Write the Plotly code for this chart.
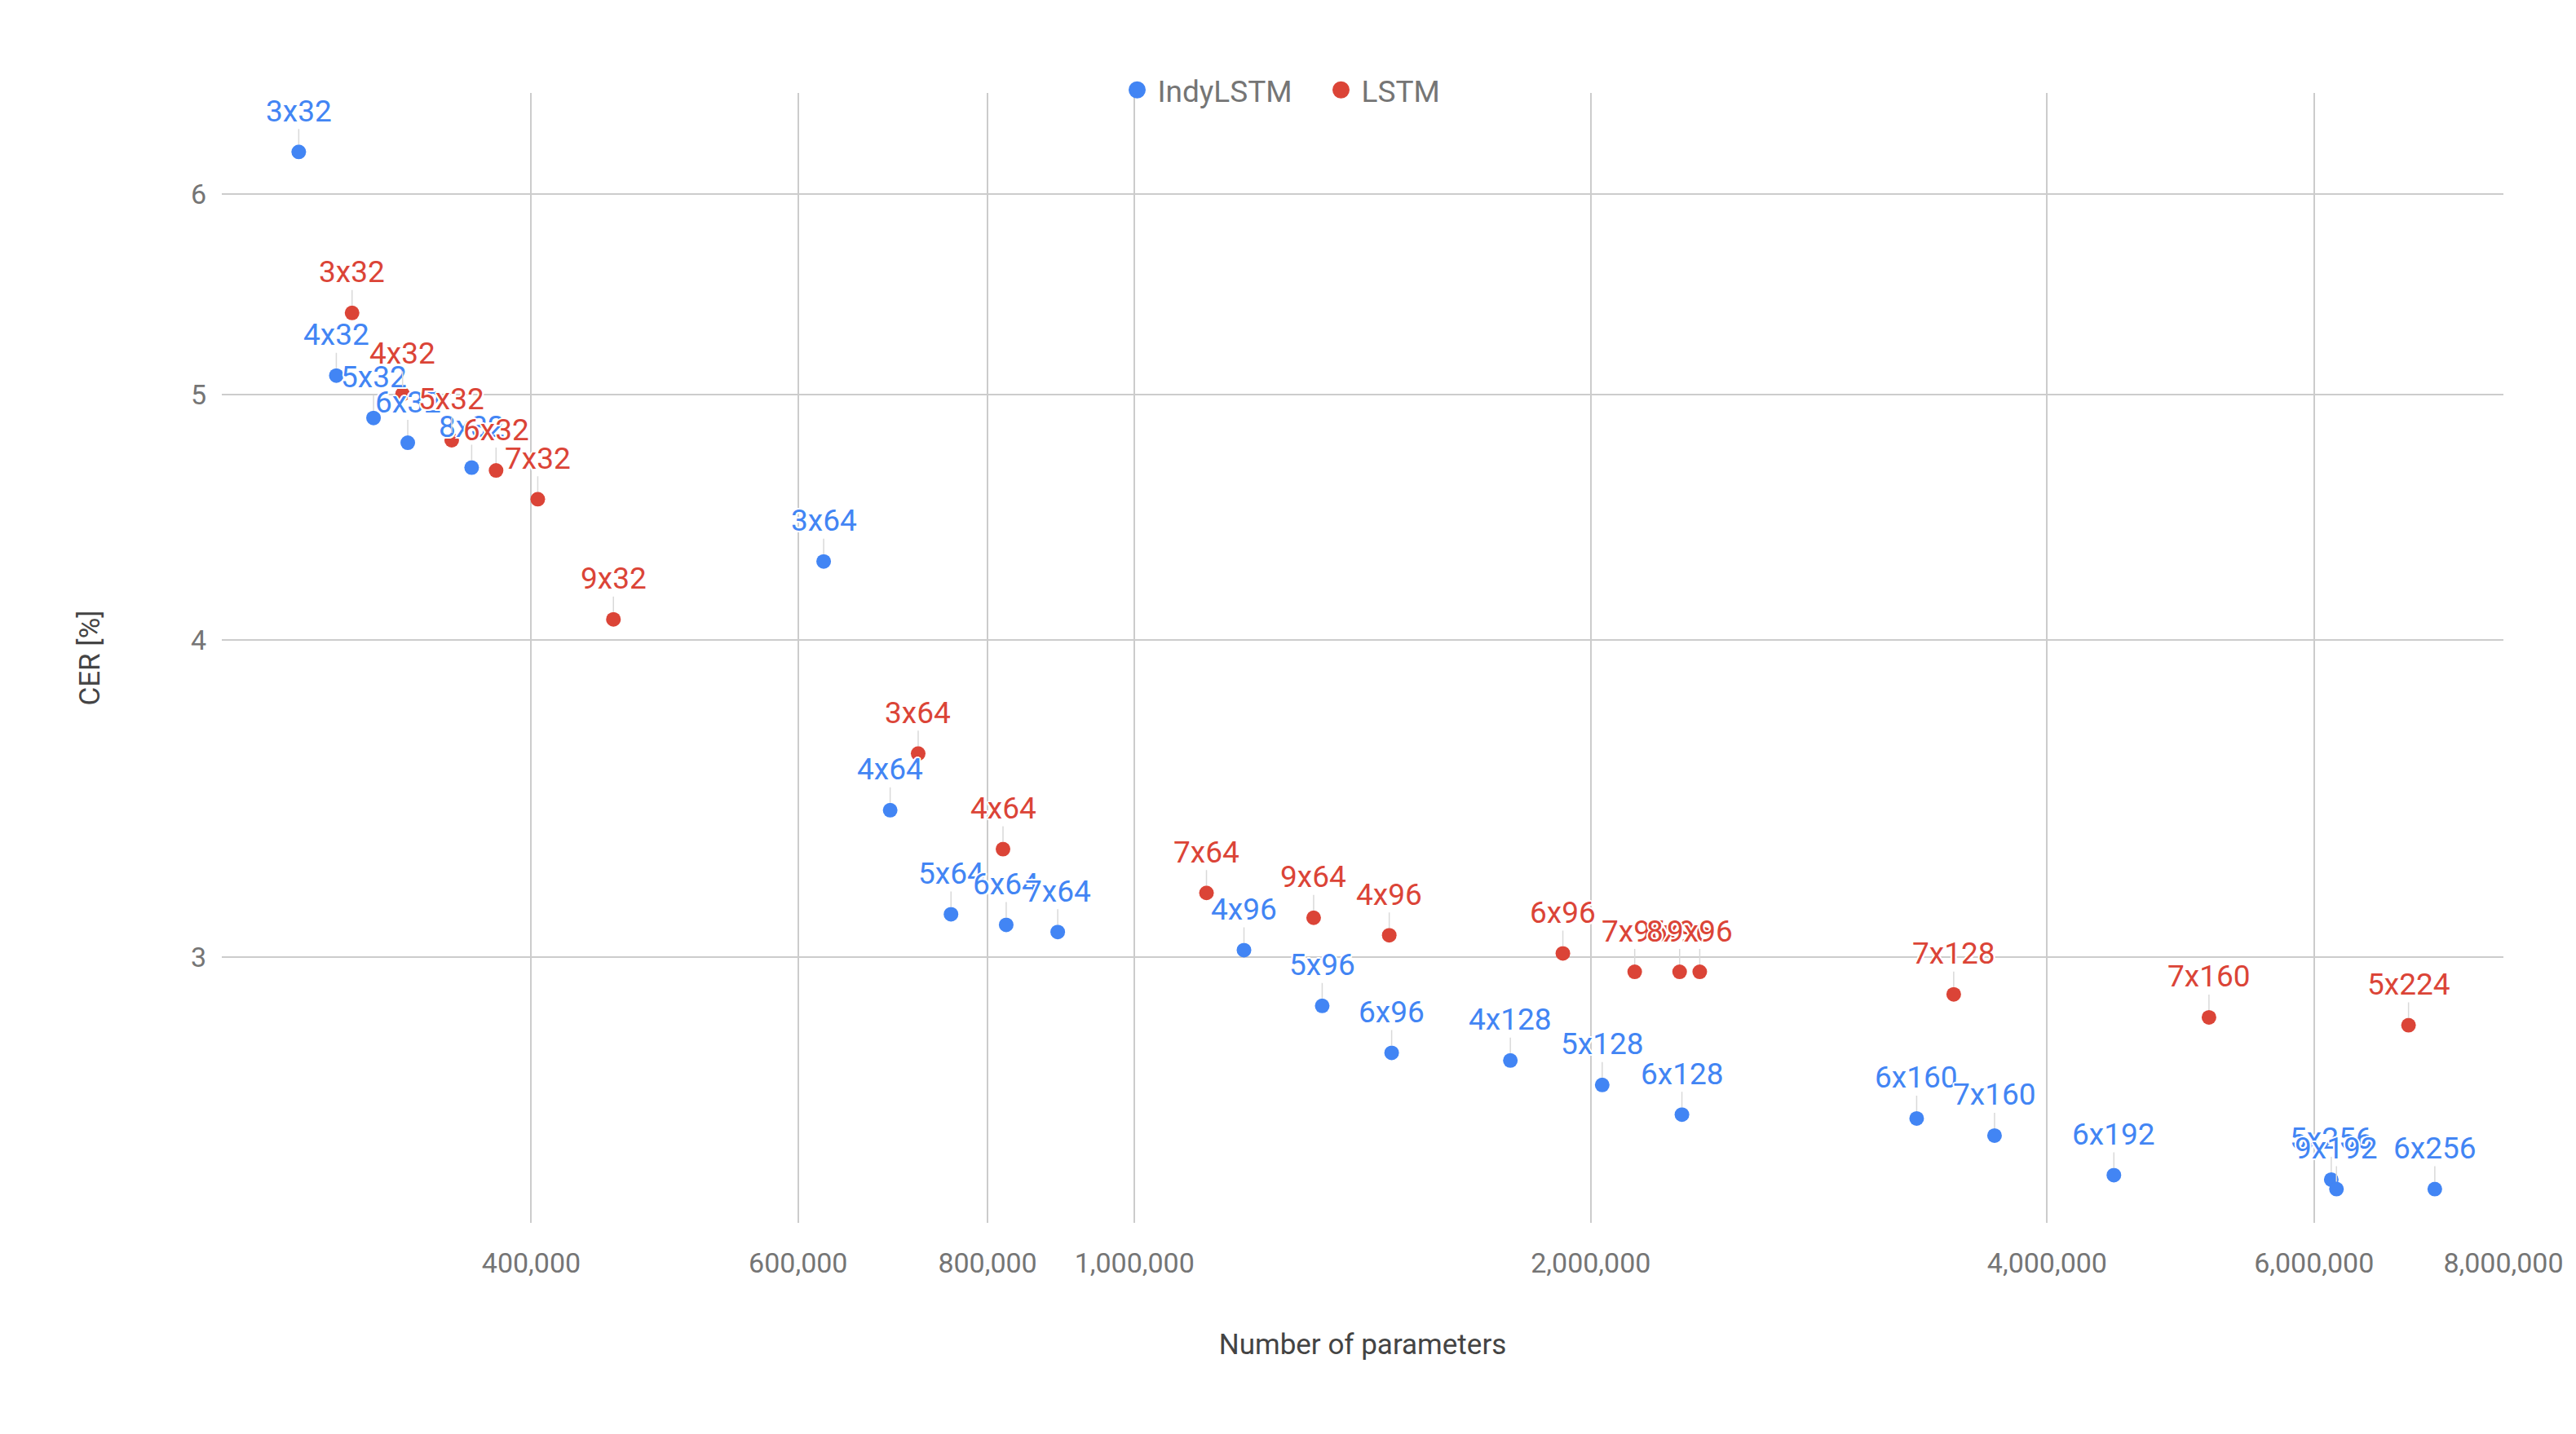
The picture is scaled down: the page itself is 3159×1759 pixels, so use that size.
import plotly.graph_objects as go
import numpy as np

# ---- data ----
indy_labels = ["3x32", "4x32", "5x32", "6x32", "8x32", "3x64", "4x64", "5x64", "6x64", "7x64",
               "4x96", "5x96", "6x96", "4x128", "5x128", "6x128", "6x160", "7x160", "6x192",
               "5x256", "9x192", "6x256"]
indy_params = [281000, 297500, 314800, 331600, 365400, 623700, 690000, 756800, 823000, 890000,
               1181000, 1330000, 1478000, 1770000, 2035000, 2297000, 3281000, 3693000, 4427000,
               6159000, 6208000, 7208000]
indy_cer = [6.233, 5.087, 4.895, 4.786, 4.679, 4.297, 3.428, 3.119, 3.089, 3.069,
            3.019, 2.870, 2.750, 2.731, 2.671, 2.600, 2.591, 2.551, 2.461,
            2.451, 2.430, 2.430]

lstm_labels = ["3x32", "4x32", "5x32", "6x32", "7x32", "9x32", "3x64", "4x64", "7x64", "9x64",
               "4x96", "6x96", "7x96", "8x96", "9x96", "7x128", "7x160", "5x224"]
lstm_params = [304700, 329000, 354500, 379200, 404000, 453200, 720000, 819000, 1115600, 1312800,
               1472600, 1917000, 2138000, 2289000, 2360000, 3471000, 5115000, 6926000]
lstm_cer = [5.385, 5.002, 4.797, 4.667, 4.547, 4.077, 3.609, 3.309, 3.180, 3.109,
            3.060, 3.010, 2.960, 2.960, 2.960, 2.900, 2.840, 2.820]

x_tick_vals = [400000, 600000, 800000, 1000000, 2000000, 4000000, 6000000, 8000000]
x_tick_text = ["400,000", "600,000", "800,000", "1,000,000", "2,000,000", "4,000,000", "6,000,000", "8,000,000"]
y_tick_vals = [3, 4, 5, 6]
y_tick_text = ["3", "4", "5", "6"]

series_names = ["IndyLSTM", "LSTM"]

BLUE = "#4285F4"
RED = "#DB4437"
FONT = "Roboto"
HALO = ("white 2px 0px 0px, white -2px 0px 0px, white 0px 2px 0px, white 0px -2px 0px, "
        "white 1.5px 1.5px 0px, white -1.5px 1.5px 0px, white 1.5px -1.5px 0px, white -1.5px -1.5px 0px")

fig = go.Figure()
fig.add_trace(go.Scatter(x=indy_params, y=indy_cer, mode="markers", name=series_names[0],
                         showlegend=False, marker=dict(color=BLUE, size=18, line=dict(width=0))))
fig.add_trace(go.Scatter(x=lstm_params, y=lstm_cer, mode="markers", name=series_names[1],
                         showlegend=False, marker=dict(color=RED, size=18, line=dict(width=0))))
# legend entries (bigger legend dots than plotly's clamp allows for plain markers)
for nm, col in zip(series_names, [BLUE, RED]):
    fig.add_trace(go.Scatter(x=[None], y=[None], mode="markers", name=nm,
                             marker=dict(color=col, size=16, line=dict(color=col, width=5))))

annotations = []
for labels, xs, ys, col in [(indy_labels, indy_params, indy_cer, BLUE),
                            (lstm_labels, lstm_params, lstm_cer, RED)]:
    for t, xv, yv in zip(labels, xs, ys):
        annotations.append(dict(
            x=np.log10(xv), y=np.log10(yv), xref="x", yref="y", text=t,
            showarrow=True, arrowhead=0, arrowwidth=1.5, arrowcolor="#d9d9d9",
            ax=0, ay=-50, standoff=9, borderpad=0,
            font=dict(family=FONT, size=37, color=col, shadow=HALO),
        ))

fig.update_layout(
    width=3159, height=1759,
    margin=dict(l=272, r=89, t=114, b=259, autoexpand=False),
    paper_bgcolor="white", plot_bgcolor="white",
    font=dict(family=FONT, size=34, color="#757575"),
    showlegend=True,
    legend=dict(orientation="h", xref="container", yref="container", x=0.5 + 40 / 3159, y=1 - 110.7 / 1759,
                xanchor="center", yanchor="middle", font=dict(family=FONT, size=37, color="#757575"),
                itemsizing="trace", itemwidth=40, entrywidth=195,
                bgcolor="rgba(0,0,0,0)"),
    annotations=annotations,
)
fig.update_xaxes(
    type="log", range=[np.log10(250000), np.log10(8000000)],
    tickvals=x_tick_vals, ticktext=x_tick_text, ticks="", ticklabelstandoff=26,
    showgrid=True, gridcolor="#cccccc", gridwidth=1.5, zeroline=False, showline=False,
    tickfont=dict(family=FONT, size=34, color="#757575"),
    title=dict(text="Number of parameters", font=dict(family=FONT, size=35, color="#444444"), standoff=68),
)
fig.update_yaxes(
    type="log", range=[0.37228, 0.81794],
    tickvals=y_tick_vals, ticktext=y_tick_text, ticks="", ticklabelstandoff=18,
    showgrid=True, gridcolor="#cccccc", gridwidth=1.5, zeroline=False, showline=False,
    tickfont=dict(family=FONT, size=34, color="#757575"),
    title=dict(text="CER [%]", font=dict(family=FONT, size=35, color="#444444"), standoff=100),
)

fig.write_html("out.html")
